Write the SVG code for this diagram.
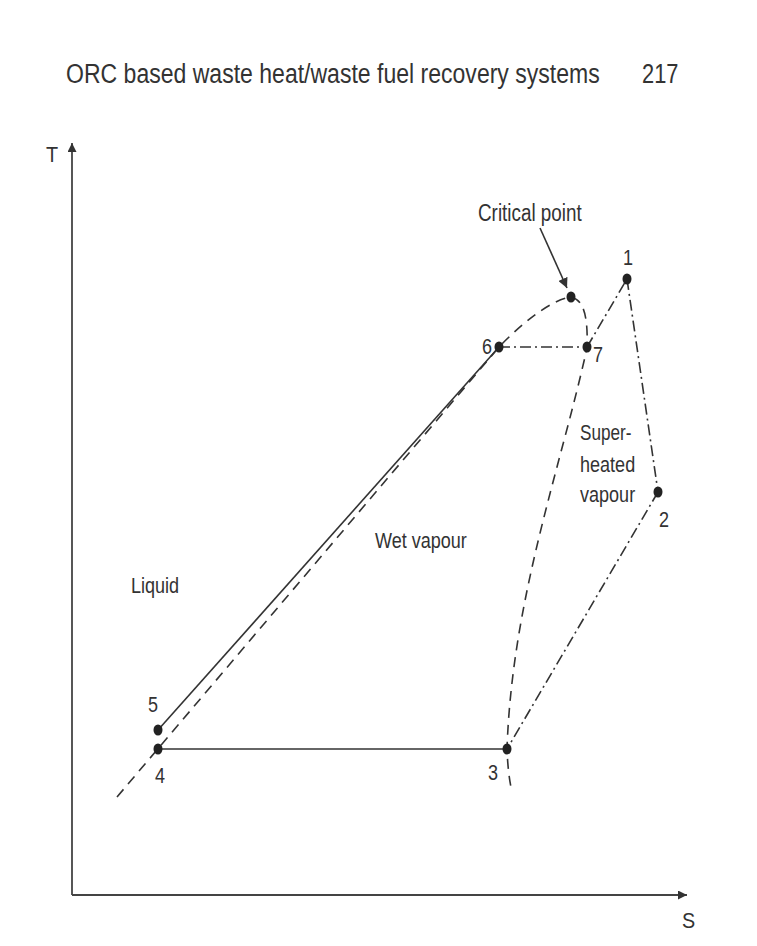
<svg xmlns="http://www.w3.org/2000/svg" width="757" height="946" viewBox="0 0 757 946">
<style>
text{font-family:"Liberation Sans",Arial,sans-serif;fill:#333}
.t{font-size:28px}
.r{font-size:22px}
.c{font-size:23px}
.n{font-size:22px}
.ax{stroke:#444;stroke-width:1.8;fill:none}
.solid{stroke:#333;stroke-width:1.6;fill:none}
.dash{stroke:#333;stroke-width:1.6;fill:none;stroke-dasharray:10 7}
.dd{stroke:#333;stroke-width:1.6;fill:none;stroke-dasharray:11 4 2 4}
.pt{fill:#222}
</style>
<defs>
<marker id="ah" viewBox="0 0 10 10" refX="10" refY="5" markerWidth="10" markerHeight="10" markerUnits="userSpaceOnUse" orient="auto">
<path d="M0,0 L10,5 L0,10 Z" fill="#333"/>
</marker>
<marker id="ah2" viewBox="0 0 10 10" refX="10" refY="5" markerWidth="14" markerHeight="9" markerUnits="userSpaceOnUse" orient="auto">
<path d="M0,0 L10,5 L0,10 Z" fill="#333"/>
</marker>
</defs>
<rect width="757" height="946" fill="#fff"/>
<text class="t" transform="translate(66,83) scale(0.823,1)">ORC based waste heat/waste fuel recovery systems</text>
<text class="t" transform="translate(642,83) scale(0.78,1)">217</text>
<g id="axes">
<line class="ax" x1="72" y1="895" x2="72" y2="143" marker-end="url(#ah2)"/>
<line class="ax" x1="72" y1="895" x2="687" y2="895" marker-end="url(#ah2)"/>
<text class="r" transform="translate(46,162) scale(0.9,1)">T</text>
<text class="r" transform="translate(682,928) scale(0.9,1)">S</text>
</g>
<g id="connectors">
<path id="dome" class="dash" d="M117,797 L499,347 C520,325 550,300 571,297 C585,300 588,320 587,348 C560,470 512,600 507,749 Q508,775 512,792"/>
<line class="solid" x1="158" y1="730" x2="499" y2="347"/>
<line class="solid" x1="158" y1="749" x2="507" y2="749"/>
<line class="dd" x1="499" y1="347" x2="587" y2="347"/>
<line class="dd" x1="587" y1="347" x2="627" y2="279"/>
<line class="dd" x1="627" y1="279" x2="658" y2="492"/>
<line class="dd" x1="658" y1="492" x2="507" y2="749"/>
<line class="solid" x1="540" y1="228" x2="567" y2="288" marker-end="url(#ah)"/>
</g>
<g id="p1"><ellipse class="pt" cx="627" cy="279" rx="4.5" ry="5.5"/><text class="n" transform="translate(623,265) scale(0.82,1)">1</text></g>
<g id="p2"><ellipse class="pt" cx="658" cy="492" rx="4.5" ry="5.5"/><text class="n" transform="translate(659,527) scale(0.82,1)">2</text></g>
<g id="p3"><ellipse class="pt" cx="507" cy="749" rx="4.5" ry="5.5"/><text class="n" transform="translate(488,780) scale(0.82,1)">3</text></g>
<g id="p4"><ellipse class="pt" cx="158" cy="749" rx="4.5" ry="5.5"/><text class="n" transform="translate(155,783) scale(0.82,1)">4</text></g>
<g id="p5"><ellipse class="pt" cx="158" cy="730" rx="4.5" ry="5.5"/><text class="n" transform="translate(148,712) scale(0.82,1)">5</text></g>
<g id="p6"><ellipse class="pt" cx="499" cy="347" rx="4.5" ry="5.5"/><text class="n" transform="translate(482,354) scale(0.82,1)">6</text></g>
<g id="p7"><ellipse class="pt" cx="587" cy="347" rx="4.5" ry="5.5"/><text class="n" transform="translate(593,362) scale(0.82,1)">7</text></g>
<g id="critical"><ellipse class="pt" cx="571" cy="297" rx="4.5" ry="5.5"/><text class="c" transform="translate(478,221) scale(0.82,1)">Critical point</text></g>
<g id="labels">
<text class="r" transform="translate(131,593) scale(0.82,1)">Liquid</text>
<text class="r" transform="translate(375,548) scale(0.82,1)">Wet vapour</text>
<text class="r" transform="translate(580,440) scale(0.78,1)">Super-</text>
<text class="r" transform="translate(580,472) scale(0.82,1)">heated</text>
<text class="r" transform="translate(580,502) scale(0.82,1)">vapour</text>
</g>
</svg>
